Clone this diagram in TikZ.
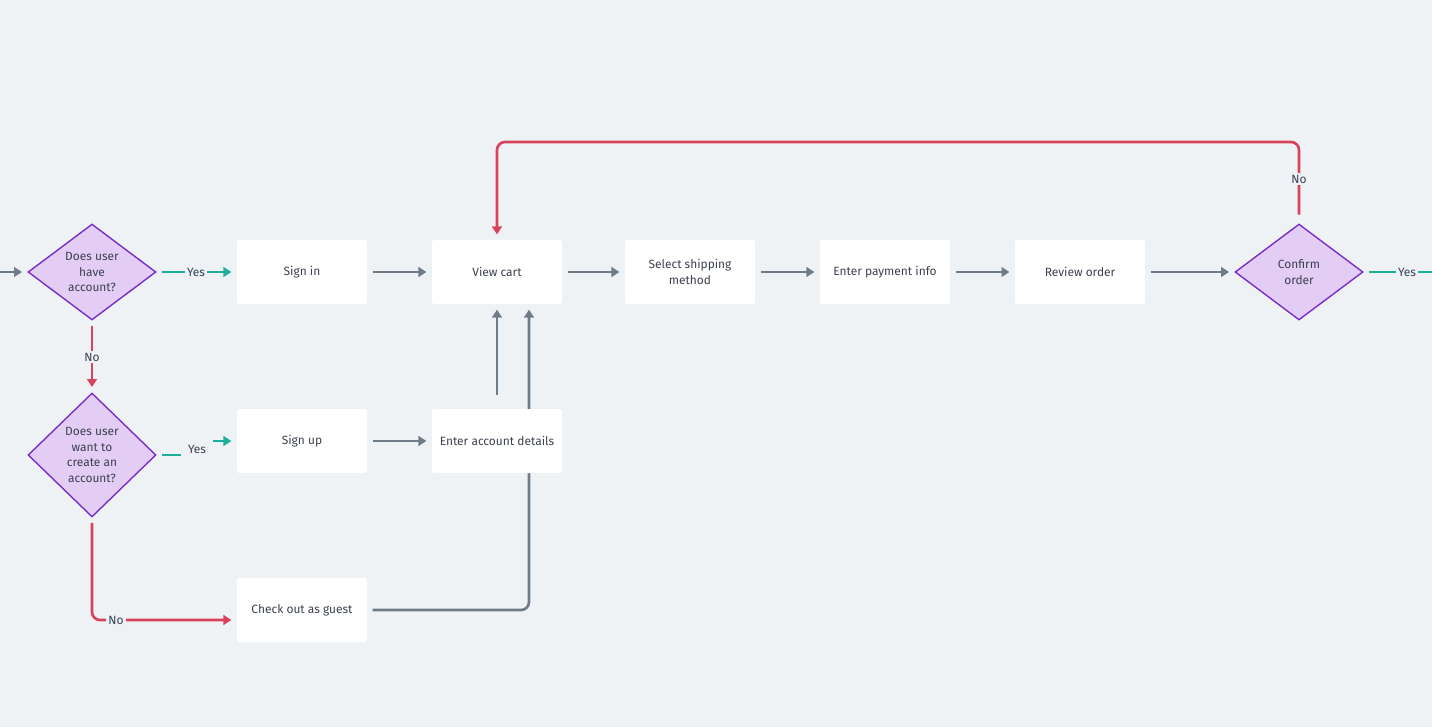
\documentclass[tikz,border=0pt]{standalone}
\usepackage{fontspec}
\setmainfont{Fira Sans}
\usepackage{tikz}
\usetikzlibrary{shapes.geometric,arrows.meta,backgrounds}

\definecolor{bgcol}{HTML}{EEF2F5}
\definecolor{txtcol}{HTML}{3B4150}
\definecolor{grayline}{HTML}{6F7C88}
\definecolor{tealline}{HTML}{1BAF9C}
\definecolor{redline}{HTML}{D9425B}
\definecolor{purpleedge}{HTML}{7B2FC9}
\definecolor{purplefill}{HTML}{E4CDF4}

\tikzset{
  box/.style={fill=white, rounded corners=1.5pt, minimum width=2.6cm, minimum height=1.28cm,
    align=center, text=txtcol, font=\fontsize{6.8}{9}\selectfont},
  decision/.style={diamond, draw=purpleedge, fill=purplefill, line width=0.8pt, inner sep=0pt,
    minimum width=2.56cm, minimum height=1.92cm, align=center, text=txtcol, font=\fontsize{6.8}{9}\selectfont},
  link/.style={line width=1.5pt, rounded corners=4.5pt, shorten >=3pt, shorten <=3pt,
    -{Triangle[length=4.5pt,width=5.5pt]}},
  flow/.style={link, grayline},
  yesflow/.style={link, tealline},
  noflow/.style={link, redline},
  lbl/.style={fill=bgcol, text=txtcol, inner sep=1.2pt, font=\fontsize{6.8}{9}\selectfont}
}

\begin{document}
\begin{tikzpicture}[x=0.02cm, y=-0.02cm]
  \useasboundingbox (0,0) rectangle (1432,727);

  \node[decision] (hasacct) at (92,272) {Does user\\have\\account?};
  \node[box] (signin) at (302,272) {Sign in};
  \node[box] (cart) at (497,272) {View cart};
  \node[box] (ship) at (690,272) {Select shipping\\method};
  \node[box] (pay) at (885,272) {Enter payment info};
  \node[box] (review) at (1080,272) {Review order};
  \node[decision] (confirm) at (1299,272) {Confirm\\order};
  \node[decision, minimum height=2.48cm] (wantacct) at (92,455) {Does user\\want to\\create an\\account?};
  \node[box] (signup) at (302,441) {Sign up};
  \node[box] (details) at (497,441) {Enter account details};
  \node[box] (guest) at (302,610) {Check out as guest};
  \coordinate (start) at (0,272);
  \coordinate (finish) at (1432,272);

  \begin{scope}[on background layer]
    \fill[bgcol] (0,0) rectangle (1432,727);
    \draw[flow, shorten <=0pt] (start) -- (hasacct.west);
    \draw[yesflow] (hasacct.east) -- (signin.west);
    \node[lbl] at (196,272) {Yes};
    \draw[noflow] (hasacct.south) -- (wantacct.north);
    \node[lbl] at (92,357) {No};
    \draw[yesflow, rounded corners=0pt] (wantacct.east) -- (197,455) -- (197,441) -- (signup.west);
    \node[lbl, inner sep=4pt] at (197,449) {Yes};
    \draw[noflow] (wantacct.south) -- (92,620) -- ([yshift=-0.2cm]guest.west);
    \node[lbl] at (116,620) {No};
    \draw[flow] (signin) -- (cart);
    \draw[flow] (signup) -- (details);
    \draw[flow, shorten <=8pt] (details.north) -- (cart.south);
    \draw[flow] (guest.east) -- (529,610) -- ([xshift=0.64cm]cart.south);
    \draw[flow] (cart) -- (ship);
    \draw[flow] (ship) -- (pay);
    \draw[flow] (pay) -- (review);
    \draw[flow] (review) -- (confirm);
    \draw[noflow, shorten <=5pt] (confirm.north) -- (1299,142) -- (497,142) -- (cart.north);
    \node[lbl] at (1299,179) {No};
    \draw[yesflow, -, shorten >=0pt] (confirm.east) -- (finish);
    \node[lbl] at (1407,272) {Yes};
  \end{scope}
\end{tikzpicture}
\end{document}
